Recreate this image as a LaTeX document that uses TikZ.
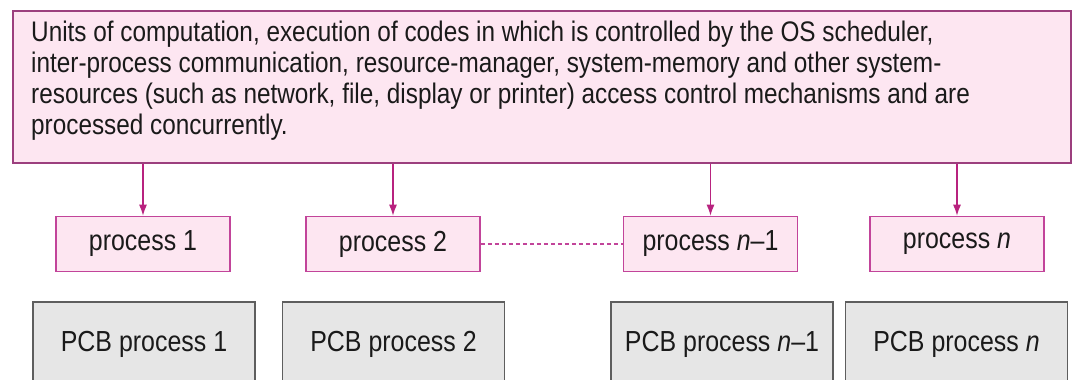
\documentclass[tikz,border=0pt]{standalone}
\usepackage{fontspec}
\setmainfont{Liberation Sans}
\newfontfamily\diagfont[FakeStretch=0.86,Ligatures=TeX]{Liberation Sans}
\usetikzlibrary{arrows.meta}
\definecolor{pinkfill}{HTML}{FDE6F1}
\definecolor{topborder}{HTML}{9C3F7E}
\definecolor{procborder}{HTML}{C2449A}
\definecolor{arrowcol}{HTML}{B8237F}
\definecolor{pcbfill}{HTML}{E6E6E6}
\definecolor{pcbborder}{HTML}{5E5E5E}
\definecolor{txt}{HTML}{1A1A1A}
\tikzset{
  topbox/.style={draw=topborder, line width=2.8pt, fill=pinkfill, minimum width=1058pt, minimum height=152pt, inner sep=0pt},
  procbox/.style={draw=procborder, line width=1.6pt, fill=pinkfill, minimum width=174pt, minimum height=55pt, inner sep=0pt, font=\diagfont\fontsize{29}{32}\selectfont, text=txt},
  pcbbox/.style={draw=pcbborder, line width=1.8pt, fill=pcbfill, minimum width=222pt, minimum height=110pt, inner sep=0pt},
  pcbtext/.style={text=txt, inner sep=0pt, font=\diagfont\fontsize{29}{32}\selectfont},
  arr/.style={draw=arrowcol, line width=1.3pt, -{Latex[length=11pt,width=8pt]}},
  dashline/.style={draw=procborder, line width=1.2pt, dash pattern=on 4pt off 3pt},
}
\begin{document}
\begin{tikzpicture}[x=1pt,y=-1pt]
\useasboundingbox (0,0) rectangle (1074,380);
\fill[white] (0,0) rectangle (1074,380);
\begin{scope}
\clip (0,0) rectangle (1074,380);
\node[topbox] (top) at (542,87) {};
\node[anchor=north west, align=left, inner sep=0pt, text=txt, font=\diagfont\fontsize{28.3}{31}\selectfont] (toptext) at (31,21)
{Units of computation, execution of codes in which is controlled by the OS scheduler,\\
inter-process communication, resource-manager, system-memory and other system-\\
resources (such as network, file, display or printer) access control mechanisms and are\\
processed concurrently.};
\node[procbox] (p1) at (143,244) {process 1};
\node[procbox] (p2) at (393,244) {process 2};
\node[procbox] (pn1) at (710.5,244) {process \textit{n}–1};
\node[procbox] (pn) at (957,244) {process \textit{n}};
\node[pcbbox] (c1) at (144,357) {};
\node[pcbbox] (c2) at (393.5,357) {};
\node[pcbbox] (cn1) at (722,357) {};
\node[pcbbox] (cn) at (956.5,357) {};
\node[pcbtext] (t1) at (144,344) {PCB process 1};
\node[pcbtext] (t2) at (393.5,344) {PCB process 2};
\node[pcbtext] (tn1) at (722,344) {PCB process \textit{n}–1};
\node[pcbtext] (tn) at (956.5,344) {PCB process \textit{n}};
\draw[arr] (top.south -| p1.north) -- (p1.north);
\draw[arr] (top.south -| p2.north) -- (p2.north);
\draw[arr] (top.south -| pn1.north) -- (pn1.north);
\draw[arr] (top.south -| pn.north) -- (pn.north);
\draw[dashline] (p2.east) -- (pn1.west);
\end{scope}
\end{tikzpicture}
\end{document}
